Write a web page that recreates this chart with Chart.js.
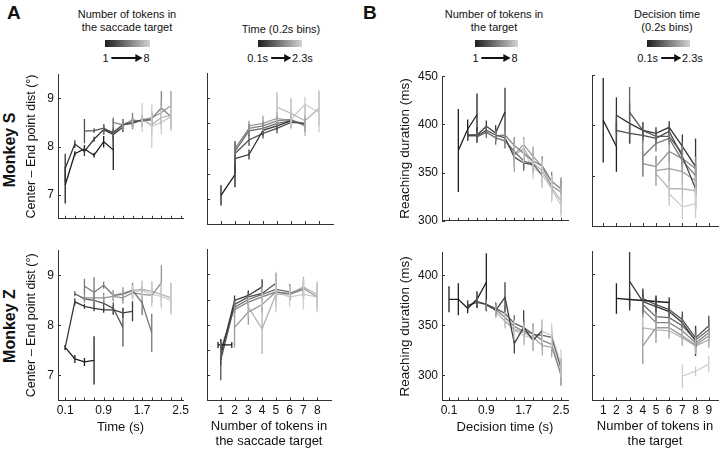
<!DOCTYPE html>
<html>
<head>
<meta charset="utf-8">
<script src="https://cdn.jsdelivr.net/npm/chart.js@4.4.0/dist/chart.umd.min.js"></script>
<style>
  body { margin: 0; width: 720px; height: 452px; position: relative; overflow: hidden; background: #fff;
         font-family: "Liberation Sans", Arial, sans-serif; color: #111; }
  canvas { position: absolute; }
  .txt { position: absolute; white-space: nowrap; transform: translateX(-50%); font-size: 11px; line-height: 13px; text-align: center; }
  .panel { position: absolute; font-weight: bold; font-size: 19px; }
  .monkey { position: absolute; font-weight: bold; font-size: 16px; white-space: nowrap; transform: translate(-50%, -50%) rotate(-90deg); }
  .bar { position: absolute; height: 7px; background: linear-gradient(to right, #1e1e1e, #d2d2d2); }
  .arrowRow { position: absolute; transform: translate(-50%, -50%); font-size: 11px; white-space: nowrap; display: flex; align-items: center; }
  .arrow { display: inline-block; position: relative; height: 1.5px; background: #111; margin: 0 2px 0 3px; }
  .arrow:after { content: ''; position: absolute; right: -1px; top: -3.5px; border-left: 7px solid #111; border-top: 4px solid transparent; border-bottom: 4px solid transparent; }
</style>
</head>
<body>

<div class="panel" style="left:7px;top:2px">A</div>
<div class="panel" style="left:363px;top:2px">B</div>

<div class="txt" style="left:127px;top:8px">Number of tokens in<br>the saccade target</div>
<div class="txt" style="left:281px;top:23px">Time (0.2s bins)</div>
<div class="txt" style="left:494px;top:8px">Number of tokens in<br>the target</div>
<div class="txt" style="left:667px;top:8px">Decision time<br>(0.2s bins)</div>

<div class="bar" style="left:105px;top:40px;width:45px"></div>
<div class="bar" style="left:258px;top:40px;width:44px"></div>
<div class="bar" style="left:475px;top:40px;width:43px"></div>
<div class="bar" style="left:647px;top:40px;width:43px"></div>

<div class="arrowRow" style="left:126px;top:58px">1<span class="arrow" style="width:30px"></span>8</div>
<div class="arrowRow" style="left:280px;top:58px">0.1s<span class="arrow" style="width:19px"></span>2.3s</div>
<div class="arrowRow" style="left:495px;top:58px">1<span class="arrow" style="width:28px"></span>8</div>
<div class="arrowRow" style="left:670px;top:58px">0.1s<span class="arrow" style="width:19px"></span>2.3s</div>

<div class="monkey" style="left:10px;top:150px">Monkey S</div>
<div class="monkey" style="left:10px;top:326px">Monkey Z</div>

<script>
// === DATA ===
var timeBins = [0.1, 0.3, 0.5, 0.7, 0.9, 1.1, 1.3, 1.5, 1.7, 1.9, 2.1, 2.3, 2.5];
var timeLabels = [0.1, 0.9, 1.7, 2.5];
var tokensA = [1, 2, 3, 4, 5, 6, 7, 8];
var tokensB = [1, 2, 3, 4, 5, 6, 7, 8, 9];
var distTicksLeft = [7, 8, 9];
var distTicksRight = [7, 7.5, 8, 8.5, 9];
var durTicksTop = [300, 350, 400, 450];
var durTicksBottom = [300, 350, 400];

// Center - end point distance vs time, one line per token count (Monkey S)
var distTimeS = [
  [7.20, 7.85, 7.95, 7.82, 8.10, 7.93, null, null, null, null, null, null, null],
  [7.55, 8.05, 7.90, 8.15, 8.35, 8.25, 8.40, null, null, null, null, null, null],
  [null, null, 8.32, 8.33, 8.38, 8.28, 8.45, 8.50, 8.55, null, null, null, null],
  [null, null, null, null, 8.35, 8.30, 8.45, 8.48, 8.55, 8.55, null, null, null],
  [null, null, null, null, null, 8.50, 8.45, 8.55, 8.52, 8.58, 8.80, 8.62, null],
  [null, null, null, null, null, null, 8.45, 8.50, 8.55, 8.60, 8.70, 8.85, null],
  [null, null, null, null, null, null, null, 8.48, 8.55, 8.45, 8.60, 8.65, null],
  [null, null, null, null, null, null, null, null, 8.60, 8.42, 8.50, 8.62, null]
];
var distTimeSErr = [
  [0.38, 0.05, 0.08, 0.05, 0.12, 0.42, null, null, null, null, null, null, null],
  [0.30, 0.08, 0.10, 0.05, 0.10, 0.12, 0.10, null, null, null, null, null, null],
  [null, null, 0.25, 0.05, 0.08, 0.30, 0.12, 0.10, 0.08, null, null, null, null],
  [null, null, null, null, 0.10, 0.10, 0.10, 0.12, 0.10, 0.12, null, null, null],
  [null, null, null, null, null, 0.10, 0.12, 0.15, 0.12, 0.15, 0.35, 0.20, null],
  [null, null, null, null, null, null, 0.10, 0.10, 0.10, 0.12, 0.25, 0.30, null],
  [null, null, null, null, null, null, null, 0.10, 0.12, 0.20, 0.25, 0.30, null],
  [null, null, null, null, null, null, null, null, 0.30, 0.45, 0.25, 0.30, null]
];

// Monkey Z
var distTimeZ = [
  [7.56, 7.33, 7.27, 7.30, null, null, null, null, null, null, null, null, null],
  [7.56, 8.47, 8.38, 8.34, 8.31, 8.31, 8.25, 8.28, null, null, null, null, null],
  [null, 8.63, 8.53, 8.50, 8.44, 8.34, 7.96, null, null, null, null, null, null],
  [null, null, 8.78, 8.66, 8.80, 8.60, 8.62, 8.70, 8.45, 7.85, null, null, null],
  [null, null, 8.55, 8.55, 8.55, 8.58, 8.55, 8.65, 8.62, 8.60, 8.85, null, null],
  [null, null, null, null, null, 8.60, 8.65, 8.70, 8.72, 8.68, 8.62, 8.55, null],
  [null, null, null, null, null, null, null, 8.65, 8.70, 8.62, 8.58, 8.50, null]
];
var distTimeZErr = [
  [0.05, 0.08, 0.08, 0.48, null, null, null, null, null, null, null, null, null],
  [0.05, 0.07, 0.05, 0.06, 0.06, 0.10, 0.10, 0.20, null, null, null, null, null],
  [null, 0.05, 0.06, 0.10, 0.10, 0.12, 0.38, null, null, null, null, null, null],
  [null, null, 0.15, 0.30, 0.07, 0.10, 0.12, 0.15, 0.25, 0.38, null, null, null],
  [null, null, 0.10, 0.10, 0.10, 0.10, 0.12, 0.12, 0.15, 0.15, 0.35, null, null],
  [null, null, null, null, null, 0.10, 0.12, 0.12, 0.15, 0.20, 0.25, 0.30, null],
  [null, null, null, null, null, null, null, 0.15, 0.20, 0.25, 0.25, 0.30, null]
];

// Distance vs tokens, one line per time bin
var distTokS = [
  [7.07, 7.48, null, null, null, null, null, null],
  [null, 7.80, 7.88, 8.36, 8.45, 8.55, null, null],
  [null, 7.90, 8.17, 8.30, 8.40, 8.52, 8.50, null],
  [null, 7.95, 8.35, 8.40, 8.50, 8.55, 8.48, null],
  [null, 8.00, 8.40, 8.45, 8.55, 8.58, 8.45, null],
  [null, null, 8.45, 8.50, 8.60, 8.55, 8.50, null],
  [null, null, null, null, 8.82, 8.70, 8.55, 8.80],
  [null, null, null, null, null, 8.58, 8.88, 8.72]
];
var distTokSErr = [
  [0.20, 0.25, null, null, null, null, null, null],
  [null, 0.30, 0.10, 0.10, 0.08, 0.08, null, null],
  [null, 0.25, 0.12, 0.10, 0.10, 0.10, 0.10, null],
  [null, 0.15, 0.10, 0.10, 0.08, 0.10, 0.10, null],
  [null, 0.12, 0.10, 0.10, 0.10, 0.12, 0.12, null],
  [null, null, 0.10, 0.15, 0.12, 0.15, 0.15, null],
  [null, null, null, null, 0.30, 0.30, 0.30, 0.35],
  [null, null, null, null, null, 0.20, 0.15, 0.40]
];

var distTokZ = [
  [7.60, null, null, null, null, null, null, null],
  [7.40, 8.48, 8.58, 8.75, null, null, null, null],
  [7.30, 8.40, 8.55, 8.62, 8.82, null, null, null],
  [7.50, 8.35, 8.50, 8.60, 8.70, 8.65, null, null],
  [null, 8.30, 8.45, 8.55, 8.65, 8.60, 8.70, null],
  [null, 7.95, 8.25, 8.40, 8.65, 8.62, 8.72, 8.55],
  [null, null, 8.35, 7.92, 8.60, 8.62, 8.75, 8.60],
  [null, null, null, 8.55, 8.65, 8.55, 8.60, 8.55]
];
var distTokZErr = [
  [0.12, null, null, null, null, null, null, null],
  [0.20, 0.10, 0.10, 0.15, null, null, null, null],
  [0.40, 0.10, 0.10, 0.10, 0.20, null, null, null],
  [0.15, 0.10, 0.10, 0.10, 0.12, 0.15, null, null],
  [null, 0.15, 0.12, 0.10, 0.12, 0.12, 0.20, null],
  [null, 0.40, 0.25, 0.15, 0.20, 0.15, 0.15, 0.25],
  [null, null, 0.20, 0.50, 0.25, 0.15, 0.20, 0.25],
  [null, null, null, 0.20, 0.40, 0.20, 0.30, 0.30]
];
// horizontal spread of the single early point (tokens)
var distTokZXErr = [
  [0.8, null, null, null, null, null, null, null]
];

// Reaching duration vs decision time, one line per token count
var durTimeS = [
  [null, 373, 395, 410, null, null, null, null, null, null, null, null, null],
  [null, null, 389, 389, 398, 391, 413, null, null, null, null, null, null],
  [null, null, 388, 388, 394, 389, 386, 366, 360, 358, null, null, null],
  [null, null, null, 387, 392, 386, 383, 372, 362, 359, 347, null, null],
  [null, null, null, null, null, 388, 389, 378, 370, 362, 357, 341, 333],
  [null, null, null, null, null, null, 385, 369, 379, 367, 356, 336, 330],
  [null, null, null, null, null, null, null, 368, 375, 360, 352, 334, 321],
  [null, null, null, null, null, null, null, null, 372, 355, 348, 333, 316]
];
var durTimeSErr = [
  [null, 43, 10, 22, null, null, null, null, null, null, null, null, null],
  [null, null, 6, 8, 6, 8, 25, null, null, null, null, null, null],
  [null, null, 5, 5, 5, 6, 6, 8, 6, 8, null, null, null],
  [null, null, null, 6, 6, 7, 8, 8, 10, 8, 12, null, null],
  [null, null, null, null, null, 6, 6, 8, 8, 8, 10, 10, 12],
  [null, null, null, null, null, null, 8, 18, 8, 10, 10, 10, 12],
  [null, null, null, null, null, null, null, 12, 10, 12, 12, 12, 14],
  [null, null, null, null, null, null, null, null, 12, 12, 14, 14, 12]
];

var durTimeZ = [
  [376, 376, 367, 376, 393, null, null, null, null, null, null, null, null],
  [null, null, 370, 373, 371, 365, 378, 332, 348, 335, 345, null, null],
  [null, null, null, 374, 371, 367, 362, 352, 348, 341, 340, 338, 307],
  [null, null, null, null, 370, 366, 358, 349, 344, 342, 335, 331, 300],
  [null, null, null, null, null, 364, 354, 346, 343, 338, 330, 328, 302],
  [null, null, null, null, null, null, 355, 345, 340, 337, 344, 340, 312]
];
var durTimeZErr = [
  [13, 16, 5, 8, 29, null, null, null, null, null, null, null, null],
  [null, null, 5, 6, 5, 7, 15, 10, 17, 10, 10, null, null],
  [null, null, null, 5, 5, 6, 7, 8, 8, 8, 8, 8, 10],
  [null, null, null, null, 5, 6, 7, 8, 8, 10, 8, 8, 10],
  [null, null, null, null, null, 6, 7, 8, 10, 12, 10, 10, 12],
  [null, null, null, null, null, null, 8, 10, 10, 12, 12, 12, 14]
];

// Reaching duration vs tokens, one line per time bin
var durTokS = [
  [405, 379, null, null, null, null, null, null, null],
  [null, 410, 402, 395, 392, 398, 379, 359, null],
  [null, 395, 392, 390, 387, 394, 369, 337, null],
  [null, null, 413, 395, 389, 389, 372, null, null],
  [null, null, null, 369, 382, 387, 365, 350, null],
  [null, null, null, 362, 359, 374, 367, 357, null],
  [null, null, null, null, 355, 357, 354, 345, null],
  [null, null, null, null, 352, 337, 337, 335, null],
  [null, null, null, null, null, 332, 319, 322, null]
];
var durTokSErr = [
  [42, 25, null, null, null, null, null, null, null],
  [null, 18, 20, 8, 6, 6, 12, 28, null],
  [null, 15, 10, 6, 5, 5, 10, 20, null],
  [null, null, 25, 8, 6, 6, 12, null, null],
  [null, null, null, 20, 8, 6, 10, 12, null],
  [null, null, null, 12, 10, 10, 12, 12, null],
  [null, null, null, null, 15, 12, 12, 14, null],
  [null, null, null, null, 12, 12, 14, 14, null],
  [null, null, null, null, null, 12, 12, 14, null]
];

var durTokZ = [
  [null, 376, 375, 374, 373, 372, null, null, null],
  [null, null, 393, 373, 368, 363, 352, 334, null],
  [null, null, null, 376, 370, 365, 355, 337, 349],
  [null, null, null, 370, 358, 357, 349, 335, 345],
  [null, null, null, 365, 352, 352, 344, 332, 342],
  [null, null, null, 329, 347, 347, 339, 330, 339],
  [null, null, null, 347, 345, 344, 337, 329, 335],
  [null, null, null, null, null, null, 299, 304, 311]
];
var durTokZErr = [
  [null, 15, 8, 6, 6, 5, null, null, null],
  [null, null, 29, 12, 8, 6, 8, 15, null],
  [null, null, null, 10, 8, 6, 8, 10, 10],
  [null, null, null, 8, 8, 6, 8, 8, 10],
  [null, null, null, 8, 8, 6, 8, 8, 8],
  [null, null, null, 18, 15, 10, 8, 8, 10],
  [null, null, null, 10, 8, 8, 8, 8, 8],
  [null, null, null, null, null, null, 12, 5, 8]
];

// === PLUGINS ===
// vertical (and optional horizontal) error bars from each dataset's errs / xerrs arrays
var errorBars = {
  id: 'errorBars',
  afterDatasetsDraw: function(chart) {
    var ctx = chart.ctx, xs = chart.scales.x, ys = chart.scales.y;
    chart.data.datasets.forEach(function(ds) {
      if (!ds.errs) return;
      ctx.save();
      ctx.strokeStyle = ds.borderColor;
      ctx.lineWidth = 1.3;
      ctx.beginPath();
      ds.data.forEach(function(p, j) {
        if (p.y === null) return;
        var px = xs.getPixelForValue(p.x), py = ys.getPixelForValue(p.y);
        var e = ds.errs[j];
        if (e !== null && e !== undefined) {
          ctx.moveTo(px, ys.getPixelForValue(p.y - e));
          ctx.lineTo(px, ys.getPixelForValue(p.y + e));
        }
        var xe = ds.xerrs ? ds.xerrs[j] : null;
        if (xe !== null && xe !== undefined) {
          var x1 = xs.getPixelForValue(p.x - xe / 4), x2 = xs.getPixelForValue(p.x + xe);
          ctx.moveTo(x1, py); ctx.lineTo(x2, py);
          ctx.moveTo(x1, py - 3); ctx.lineTo(x1, py + 3);
          ctx.moveTo(x2, py - 3); ctx.lineTo(x2, py + 3);
        }
      });
      ctx.stroke();
      ctx.restore();
    });
  }
};

// matlab style ticks pointing into the plot
var inwardTicks = {
  id: 'inwardTicks',
  afterDraw: function(chart) {
    var ctx = chart.ctx, a = chart.chartArea;
    ctx.save();
    ctx.strokeStyle = '#333';
    ctx.lineWidth = 1;
    ctx.beginPath();
    chart.scales.x.ticks.forEach(function(t) {
      var px = Math.round(chart.scales.x.getPixelForValue(t.value)) + 0.5;
      ctx.moveTo(px, a.bottom); ctx.lineTo(px, a.bottom - 3);
    });
    chart.scales.y.ticks.forEach(function(t) {
      var py = Math.round(chart.scales.y.getPixelForValue(t.value)) + 0.5;
      ctx.moveTo(a.left, py); ctx.lineTo(a.left + 3, py);
    });
    ctx.stroke();
    ctx.restore();
  }
};

function grayFor(i, n) {
  var g = Math.round(30 + (205 - 30) * (n > 1 ? i / (n - 1) : 0));
  return 'rgb(' + g + ',' + g + ',' + g + ')';
}

function makePanel(cfg) {
  var yW = cfg.yW, xH = cfg.xH, padTop = 10, padRight = cfg.padRight;
  var left = cfg.area[0] - yW, top = cfg.area[1] - padTop;
  var w = cfg.area[2] + padRight - left, h = cfg.area[3] + xH - top;

  var canvas = document.createElement('canvas');
  canvas.width = w; canvas.height = h;
  canvas.style.left = left + 'px'; canvas.style.top = top + 'px';
  document.body.appendChild(canvas);

  var datasets = cfg.vals.map(function(row, i) {
    return {
      data: row.map(function(v, j) { return { x: cfg.xs[j], y: v }; }),
      errs: cfg.errs[i],
      xerrs: cfg.xerrs ? cfg.xerrs[i] : null,
      borderColor: grayFor(i, cfg.vals.length),
      borderWidth: 1.3, pointRadius: 0, fill: false, tension: 0, spanGaps: false
    };
  });

  new Chart(canvas.getContext('2d'), {
    type: 'line',
    data: { datasets: datasets },
    options: {
      responsive: false, animation: false, devicePixelRatio: 1,
      layout: { padding: { top: padTop, right: padRight, left: 0, bottom: 0 } },
      plugins: { legend: { display: false }, tooltip: { enabled: false } },
      scales: {
        x: {
          type: 'linear', min: cfg.xMin, max: cfg.xMax,
          afterBuildTicks: function(s) { s.ticks = cfg.xTicks.map(function(v) { return { value: v }; }); },
          afterFit: function(s) { s.height = xH; },
          ticks: {
            display: !!cfg.xLabels, autoSkip: false, maxRotation: 0, padding: 3,
            color: '#111', font: { size: 12, family: '"Liberation Sans", Arial, sans-serif' },
            callback: function(v) { return cfg.xLabels && cfg.xLabels.indexOf(v) >= 0 ? String(v) : ''; }
          },
          grid: { display: true, drawOnChartArea: false, drawTicks: false },
          border: { display: true, color: '#333', width: 1 },
          title: {
            display: !!cfg.xTitle, text: cfg.xTitle || '', color: '#111',
            font: { size: 13, lineHeight: 1.15, family: '"Liberation Sans", Arial, sans-serif' },
            padding: { top: 0, bottom: 0 }
          }
        },
        y: {
          min: cfg.yMin, max: cfg.yMax,
          afterBuildTicks: function(s) { s.ticks = cfg.yTicks.map(function(v) { return { value: v }; }); },
          afterFit: function(s) { s.width = yW; },
          ticks: {
            display: !!cfg.yTitle, padding: 4, color: '#111',
            font: { size: 12, family: '"Liberation Sans", Arial, sans-serif' }
          },
          grid: { display: true, drawOnChartArea: false, drawTicks: false },
          border: { display: true, color: '#333', width: 1 },
          title: {
            display: !!cfg.yTitle, text: cfg.yTitle || '', color: '#111',
            font: { size: cfg.yTitleSize || 12.5, family: '"Liberation Sans", Arial, sans-serif' },
            padding: { top: cfg.yTitlePad || 4, bottom: 0 }
          }
        }
      }
    },
    plugins: [errorBars, inwardTicks]
  });
}

// === PANELS ===
var distTitle = 'Center \u2013 End point dist (\u00b0)';
var durTitle = 'Reaching duration (ms)';

makePanel({ area: [58, 73, 183, 224], yW: 42, xH: 6, padRight: 12,
  xs: timeBins, xMin: -0.05, xMax: 2.55, xTicks: timeBins, xLabels: null,
  yMin: 6.5, yMax: 9.5, yTicks: distTicksLeft, yTitle: distTitle, yTitlePad: 8.5,
  vals: distTimeS, errs: distTimeSErr });

makePanel({ area: [207, 73, 333, 224], yW: 10, xH: 6, padRight: 12,
  xs: tokensA, xMin: 0, xMax: 9, xTicks: tokensA, xLabels: null,
  yMin: 6.5, yMax: 9.5, yTicks: distTicksRight,
  vals: distTokS, errs: distTokSErr });

makePanel({ area: [442, 75, 568, 226], yW: 52, xH: 6, padRight: 8,
  xs: timeBins, xMin: -0.05, xMax: 2.65, xTicks: timeBins, xLabels: null,
  yMin: 300, yMax: 450, yTicks: durTicksTop, yTitle: durTitle, yTitleSize: 13.5, yTitlePad: 7,
  vals: durTimeS, errs: durTimeSErr });

makePanel({ area: [592, 75, 718, 226], yW: 10, xH: 6, padRight: 2,
  xs: tokensB, xMin: 0.15, xMax: 9.7, xTicks: tokensB, xLabels: null,
  yMin: 300, yMax: 450, yTicks: durTicksTop,
  vals: durTokS, errs: durTokSErr });

makePanel({ area: [58, 249, 183, 401], yW: 42, xH: 34.5, padRight: 12,
  xs: timeBins, xMin: -0.05, xMax: 2.55, xTicks: timeBins, xLabels: timeLabels, xTitle: 'Time (s)',
  yMin: 6.5, yMax: 9.5, yTicks: distTicksLeft, yTitle: distTitle, yTitlePad: 8.5,
  vals: distTimeZ, errs: distTimeZErr });

makePanel({ area: [207, 249, 331, 401], yW: 10, xH: 48.5, padRight: 12,
  xs: tokensA, xMin: 0, xMax: 9, xTicks: tokensA, xLabels: tokensA,
  xTitle: ['Number of tokens in', 'the saccade target'],
  yMin: 6.5, yMax: 9.5, yTicks: distTicksRight,
  vals: distTokZ, errs: distTokZErr, xerrs: distTokZXErr });

makePanel({ area: [442, 251, 568, 401], yW: 52, xH: 34.5, padRight: 8,
  xs: timeBins, xMin: -0.05, xMax: 2.65, xTicks: timeBins, xLabels: timeLabels, xTitle: 'Decision time (s)',
  yMin: 275, yMax: 423, yTicks: durTicksBottom, yTitle: durTitle, yTitleSize: 13.5, yTitlePad: 7,
  vals: durTimeZ, errs: durTimeZErr });

makePanel({ area: [592, 251, 718, 401], yW: 10, xH: 48.5, padRight: 2,
  xs: tokensB, xMin: 0.15, xMax: 9.7, xTicks: tokensB, xLabels: tokensB,
  xTitle: ['Number of tokens in', 'the target'],
  yMin: 275, yMax: 423, yTicks: durTicksBottom,
  vals: durTokZ, errs: durTokZErr });
</script>
</body>
</html>
